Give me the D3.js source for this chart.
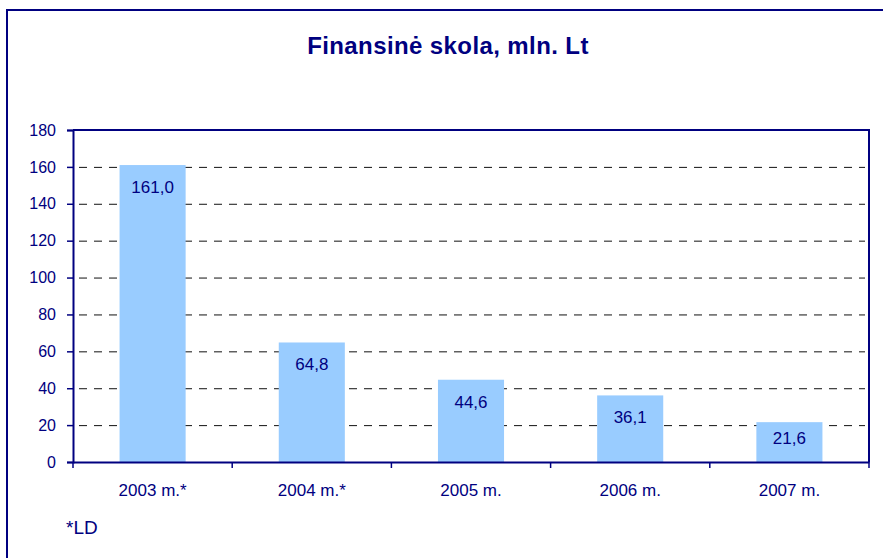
<!DOCTYPE html>
<html>
<head>
<meta charset="utf-8">
<script src="https://cdn.jsdelivr.net/npm/d3@7"></script>
<style>
  body { margin: 0; background: #fff; }
  text { font-family: "Liberation Sans", Arial, sans-serif; fill: #000080; }
</style>
</head>
<body>
<svg id="chart" width="883" height="558"></svg>
<script>
var categories = ["2003 m.*", "2004 m.*", "2005 m.", "2006 m.", "2007 m."];
var values = [161.0, 64.8, 44.6, 36.1, 21.6];
var yTicks = [0, 20, 40, 60, 80, 100, 120, 140, 160, 180];

var navy = "#000080";
var svg = d3.select("#chart");

// outer frame (runs off the right and bottom edges)
svg.append("rect")
  .attr("x", 7).attr("y", 10)
  .attr("width", 890).attr("height", 560)
  .attr("fill", "#fff")
  .attr("stroke", navy).attr("stroke-width", 2);

svg.append("text")
  .attr("x", 448).attr("y", 54)
  .attr("text-anchor", "middle")
  .style("font-size", "24px").style("font-weight", "bold")
  .style("letter-spacing", "0.4px")
  .text("Finansinė skola, mln. Lt");

var pLeft = 73, pRight = 869, pTop = 130, pBottom = 462;

var x = d3.scaleBand().domain(categories).range([pLeft, pRight]);
var y = d3.scaleLinear().domain([0, 180]).range([pBottom, pTop]);

// gridlines
svg.append("g")
  .selectAll("line")
  .data(yTicks.filter(d => d > 0 && d < 180))
  .enter().append("line")
    .attr("x1", pLeft + 6).attr("x2", pRight - 4)
    .attr("y1", d => y(d) + 0.5).attr("y2", d => y(d) + 0.5)
    .attr("stroke", "#111").attr("stroke-width", 1)
    .attr("stroke-dasharray", "8,7");

// bars
var bw = x.bandwidth() * 0.415;
svg.append("g")
  .selectAll("rect")
  .data(values)
  .enter().append("rect")
    .attr("x", (d, i) => x(categories[i]) + x.bandwidth() / 2 - bw / 2)
    .attr("y", d => y(d))
    .attr("width", bw)
    .attr("height", d => pBottom - y(d))
    .attr("fill", "#99CCFF");

// value labels, inside the bar end
svg.append("g")
  .selectAll("text")
  .data(values)
  .enter().append("text")
    .attr("x", (d, i) => x(categories[i]) + x.bandwidth() / 2)
    .attr("y", d => y(d) + Math.min(22, (pBottom - y(d)) * 0.4) + 6)
    .attr("text-anchor", "middle")
    .style("font-size", "17px")
    .text(d => d3.format(".1f")(d).replace(".", ","));

// plot frame top/right
svg.append("path")
  .attr("d", `M${pLeft},${pTop}H${pRight}V${pBottom}`)
  .attr("fill", "none").attr("stroke", navy).attr("stroke-width", 2);

// y axis
var yAxis = svg.append("g")
  .attr("transform", `translate(${pLeft},0)`)
  .call(d3.axisLeft(y).tickValues(yTicks).tickSize(6).tickPadding(11));
yAxis.select(".domain").attr("stroke", navy).attr("stroke-width", 2);
yAxis.selectAll(".tick line").attr("stroke", navy).attr("stroke-width", 1.5);
yAxis.selectAll(".tick text").style("font-size", "16px").attr("fill", navy)
  .style("font-family", "Liberation Sans, Arial, sans-serif");

// x axis
var xAxis = svg.append("g")
  .attr("transform", `translate(0,${pBottom})`)
  .call(d3.axisBottom(x).tickSize(0).tickPadding(22));
xAxis.select(".domain").attr("stroke", navy).attr("stroke-width", 2);
xAxis.selectAll(".tick text").style("font-size", "17px").attr("fill", navy)
  .style("font-family", "Liberation Sans, Arial, sans-serif");

// category boundary ticks
svg.append("g")
  .selectAll("line")
  .data(categories.concat([null]))
  .enter().append("line")
    .attr("x1", (d, i) => i < categories.length ? x(d) : pRight)
    .attr("x2", (d, i) => i < categories.length ? x(d) : pRight)
    .attr("y1", pBottom).attr("y2", pBottom + 6)
    .attr("stroke", navy).attr("stroke-width", 1.5);

svg.append("text")
  .attr("x", 66).attr("y", 534)
  .style("font-size", "19px")
  .text("*LD");
</script>
</body>
</html>
